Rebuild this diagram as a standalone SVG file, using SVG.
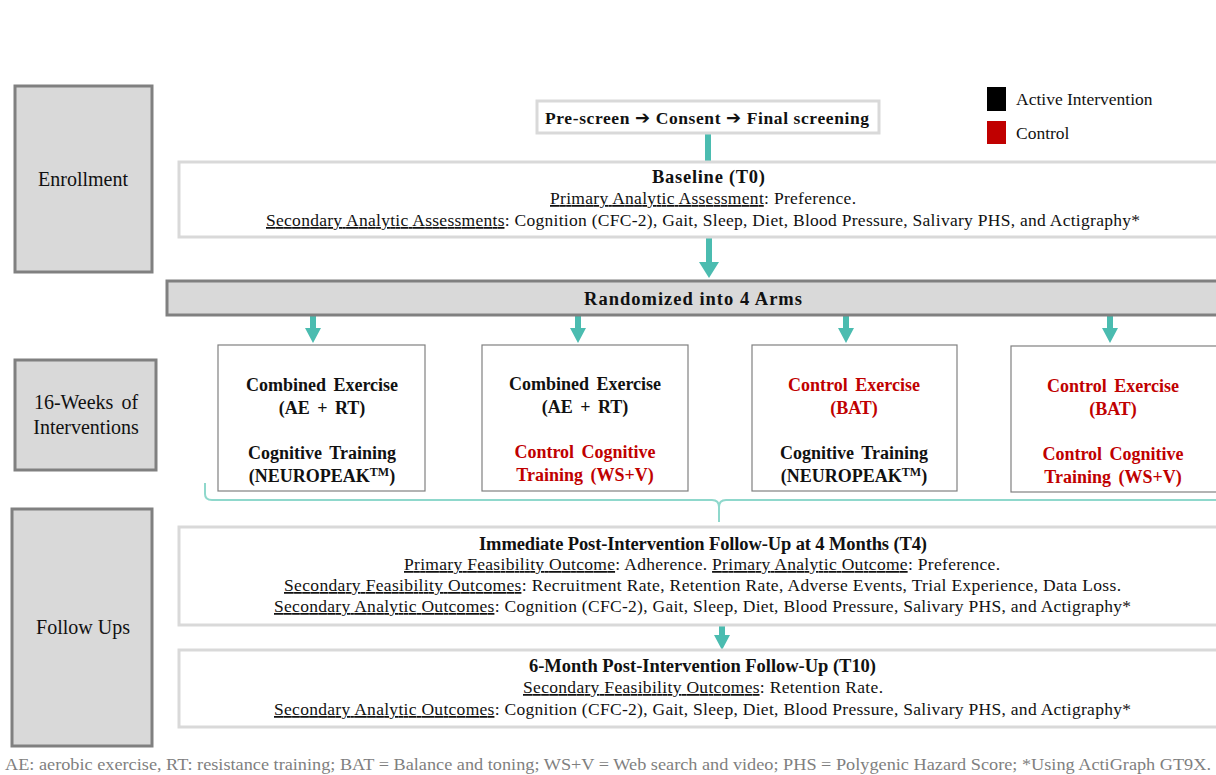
<svg xmlns="http://www.w3.org/2000/svg" width="1216" height="775" viewBox="0 0 1216 775">
  <style>
    text { font-family: 'Liberation Serif', 'Times New Roman', serif; fill: #111; }
    .stage { fill: #d9d9d9; stroke: #808080; stroke-width: 3; }
    .pane { fill: #ffffff; stroke: #d9d9d9; stroke-width: 3; }
    .arm { fill: #ffffff; stroke: #808080; stroke-width: 1.2; }
    .stageText { font-size: 20px; text-anchor: middle; }
    .body { font-size: 17.5px; }
    .bold { font-weight: bold; }
    .title { font-size: 18.5px; font-weight: bold; }
    .armText { font-size: 18px; font-weight: bold; text-anchor: middle; word-spacing: 3px; }
    .red { fill: #c00000; }
    .u { text-decoration: underline; }
    .flow { stroke: #4bbcb0; stroke-width: 6; fill: none; }
    .head { fill: #4bbcb0; }
    .brace { stroke: #8fd8cc; stroke-width: 2; fill: none; }
    .note { font-size: 17px; fill: #7f7f7f; }
    .sym { font-family: 'DejaVu Sans', sans-serif; font-size: 18px; }
  </style>

  <!-- stage labels -->
  <g id="stage-enrollment">
    <rect class="stage" x="15" y="86" width="137" height="186"/>
    <text class="stageText" x="83" y="186">Enrollment</text>
  </g>
  <g id="stage-interventions">
    <rect class="stage" x="15" y="360" width="141" height="110"/>
    <text class="stageText" x="86" y="409" word-spacing="3">16-Weeks of</text>
    <text class="stageText" x="86" y="434">Interventions</text>
  </g>
  <g id="stage-followups">
    <rect class="stage" x="12" y="509" width="140" height="237"/>
    <text class="stageText" x="83" y="634">Follow Ups</text>
  </g>

  <!-- legend -->
  <g id="legend">
    <rect x="987" y="87" width="19" height="24" fill="#000"/>
    <text x="1016" y="105" font-size="17.5">Active Intervention</text>
    <rect x="987" y="121" width="19" height="23" fill="#c00000"/>
    <text x="1016" y="139" font-size="17.5">Control</text>
  </g>

  <!-- connectors -->
  <g id="connectors">
    <line class="flow" x1="708" y1="133" x2="708" y2="163"/>
    <line class="flow" x1="709" y1="237" x2="709" y2="264"/>
    <polygon class="head" points="699,262 719,262 709,278"/>
    <line class="flow" x1="313" y1="316" x2="313" y2="330"/>
    <polygon class="head" points="305,328 321,328 313,343"/>
    <line class="flow" x1="578" y1="316" x2="578" y2="330"/>
    <polygon class="head" points="570,328 586,328 578,343"/>
    <line class="flow" x1="846" y1="316" x2="846" y2="330"/>
    <polygon class="head" points="838,328 854,328 846,343"/>
    <line class="flow" x1="1110" y1="316" x2="1110" y2="330"/>
    <polygon class="head" points="1102,328 1118,328 1110,343"/>
    <path class="brace" d="M205,483 L205,494 Q205,500 212,500 L712,500 Q719,500 719,507 L719,522 M719,507 Q719,500 726,500 L1216,500"/>
    <line class="flow" x1="722" y1="626" x2="722" y2="637"/>
    <polygon class="head" points="714,635 730,635 722,650"/>
  </g>

  <g id="screening">
    <rect class="pane" x="537" y="101" width="342" height="32"/>
    <text class="body bold" x="545" y="124" textLength="324">Pre-screen <tspan class="sym">➔</tspan> Consent <tspan class="sym">➔</tspan> Final screening</text>
  </g>

  <g id="baseline">
    <rect class="pane" x="179" y="162" width="1045" height="75"/>
    <text class="title" x="652" y="183" textLength="113">Baseline (T0)</text>
    <text class="body" x="550" y="204" textLength="306"><tspan class="u">Primary Analytic Assessment</tspan>: Preference.</text>
    <text class="body" x="266" y="226" textLength="874"><tspan class="u">Secondary Analytic Assessments</tspan>: Cognition (CFC-2), Gait, Sleep, Diet, Blood Pressure, Salivary PHS, and Actigraphy*</text>
  </g>

  <g id="randomized">
    <rect class="stage" x="167" y="281" width="1060" height="34"/>
    <text class="title" x="584" y="305" textLength="218">Randomized into 4 Arms</text>
  </g>

  <g id="arm-1">
    <rect class="arm" x="218" y="345" width="207" height="146"/>
    <text class="armText" x="322" y="391">Combined Exercise</text>
    <text class="armText" x="322" y="414">(AE + RT)</text>
    <text class="armText" x="322" y="459">Cognitive Training</text>
    <text class="armText" x="322" y="482">(NEUROPEAK<tspan dy="-6" font-size="12">TM</tspan><tspan dy="6">)</tspan></text>
  </g>
  <g id="arm-2">
    <rect class="arm" x="482" y="345" width="206" height="146"/>
    <text class="armText" x="585" y="390">Combined Exercise</text>
    <text class="armText" x="585" y="413">(AE + RT)</text>
    <text class="armText red" x="585" y="458">Control Cognitive</text>
    <text class="armText red" x="585" y="481">Training (WS+V)</text>
  </g>
  <g id="arm-3">
    <rect class="arm" x="752" y="345" width="205" height="146"/>
    <text class="armText red" x="854" y="391">Control Exercise</text>
    <text class="armText red" x="854" y="414">(BAT)</text>
    <text class="armText" x="854" y="459">Cognitive Training</text>
    <text class="armText" x="854" y="482">(NEUROPEAK<tspan dy="-6" font-size="12">TM</tspan><tspan dy="6">)</tspan></text>
  </g>
  <g id="arm-4">
    <rect class="arm" x="1011" y="346" width="210" height="146"/>
    <text class="armText red" x="1113" y="392">Control Exercise</text>
    <text class="armText red" x="1113" y="415">(BAT)</text>
    <text class="armText red" x="1113" y="460">Control Cognitive</text>
    <text class="armText red" x="1113" y="483">Training (WS+V)</text>
  </g>

  <g id="followup-t4">
    <rect class="pane" x="179" y="527" width="1045" height="98"/>
    <text class="title" x="479" y="550" textLength="448">Immediate Post-Intervention Follow-Up at 4 Months (T4)</text>
    <text class="body" x="404" y="570" textLength="596"><tspan class="u">Primary Feasibility Outcome</tspan>: Adherence. <tspan class="u">Primary Analytic Outcome</tspan>: Preference.</text>
    <text class="body" x="284" y="591" textLength="837"><tspan class="u">Secondary Feasibility Outcomes</tspan>: Recruitment Rate, Retention Rate, Adverse Events, Trial Experience, Data Loss.</text>
    <text class="body" x="274" y="612" textLength="857"><tspan class="u">Secondary Analytic Outcomes</tspan>: Cognition (CFC-2), Gait, Sleep, Diet, Blood Pressure, Salivary PHS, and Actigraphy*</text>
  </g>

  <g id="followup-t10">
    <rect class="pane" x="179" y="650" width="1045" height="77"/>
    <text class="title" x="529" y="672" textLength="347">6-Month Post-Intervention Follow-Up (T10)</text>
    <text class="body" x="523" y="693" textLength="360"><tspan class="u">Secondary Feasibility Outcomes</tspan>: Retention Rate.</text>
    <text class="body" x="274" y="715" textLength="857"><tspan class="u">Secondary Analytic Outcomes</tspan>: Cognition (CFC-2), Gait, Sleep, Diet, Blood Pressure, Salivary PHS, and Actigraphy*</text>
  </g>

  <!-- abbreviations -->
  <text class="note" x="5" y="770" textLength="1206" lengthAdjust="spacingAndGlyphs">AE: aerobic exercise, RT: resistance training; BAT = Balance and toning; WS+V = Web search and video; PHS = Polygenic Hazard Score; *Using ActiGraph GT9X.</text>
</svg>
